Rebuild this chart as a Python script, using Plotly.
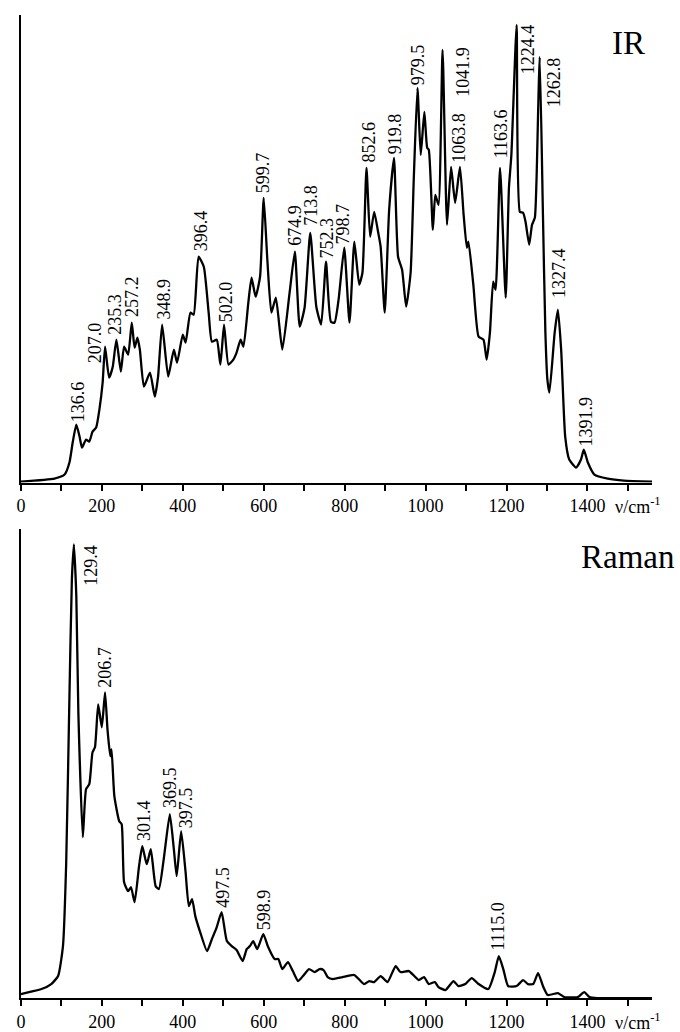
import plotly.graph_objects as go

# ---------------- data ----------------
ir_wavenumber = [0, 83, 108, 120, 128, 137, 145, 151, 161, 169, 177, 186, 194, 202, 208, 218, 227, 236,
                 247, 255, 265, 274, 281, 288, 294, 304, 319, 331, 339, 349, 364, 378, 386, 400, 407, 419,
                 427, 439, 452, 464, 472, 484, 493, 502, 513, 525, 533, 543, 550, 562, 570, 580, 591, 600,
                 609, 619, 630, 646, 664, 677, 689, 701, 715, 730, 742, 754, 766, 775, 785, 799, 812, 824,
                 836, 844, 854, 863, 873, 883, 889, 899, 910, 922, 932, 942, 952, 963, 971, 980, 988, 997,
                 1004, 1008, 1018, 1024, 1032, 1042, 1053, 1063, 1073, 1085, 1094, 1102, 1106, 1118, 1131,
                 1143, 1151, 1159, 1167, 1173, 1184, 1198, 1206, 1212, 1225, 1233, 1241, 1247, 1256, 1263,
                 1270, 1274, 1282, 1290, 1296, 1301, 1306, 1319, 1327, 1335, 1345, 1355, 1372, 1384, 1391,
                 1401, 1417, 1450, 1490, 1560]
ir_intensity = [0, 3, 7, 19, 39, 57, 45, 34, 42, 40, 50, 54, 72, 99, 135, 104, 115, 142,
                110, 135, 127, 159, 134, 144, 132, 95, 109, 85, 105, 157, 105, 132, 119, 147, 139, 169,
                167, 225, 215, 169, 140, 142, 117, 157, 117, 122, 129, 142, 135, 179, 204, 185, 205, 284,
                222, 169, 184, 132, 189, 230, 155, 174, 249, 175, 157, 220, 160, 159, 182, 234, 159, 240,
                197, 209, 314, 245, 270, 249, 235, 169, 272, 324, 225, 212, 175, 209, 305, 394, 327, 370,
                334, 332, 252, 287, 277, 432, 257, 315, 279, 315, 267, 234, 240, 197, 145,
                142, 122, 149, 200, 192, 314, 184, 294, 327, 457, 270, 269, 260, 237, 257,
                264, 300, 425, 267, 150, 102, 89, 149, 172, 132, 45, 22, 14, 22, 32,
                19, 7, 3, 1, 0]

raman_wavenumber = [0, 10, 51, 75, 92, 104, 112, 120, 126, 131, 137, 142, 153, 161, 169, 177, 183, 191,
                    200, 208, 214, 221, 224, 231, 243, 249, 255, 265, 272, 281, 292, 300, 311, 321, 333,
                    341, 353, 368, 378, 385, 396, 407, 415, 423, 431, 443, 460, 472, 484, 496, 509, 521,
                    533, 548, 558, 566, 574, 584, 599, 611, 627, 636, 646, 660, 672, 685, 697, 712, 726,
                    738, 748, 758, 771, 795, 824, 848, 861, 873, 889, 906, 926, 938, 959, 983, 996, 1008,
                    1023, 1032, 1049, 1069, 1081, 1098, 1114, 1131, 1155, 1171, 1181, 1192, 1204, 1225,
                    1241, 1253, 1266, 1278, 1290, 1302, 1327, 1343, 1376, 1392, 1405, 1425, 1560]
raman_intensity = [4, 5, 9, 14, 22, 52, 136, 302, 419, 454, 402, 286, 161, 209, 214, 246, 251, 294,
                   271, 306, 269, 242, 249, 202, 177, 174, 116, 107, 111, 96, 132, 152, 134, 149, 112,
                   109, 139, 184, 149, 122, 167, 126, 92, 99, 82, 66, 47, 59, 71, 86, 57, 52,
                   48, 37, 49, 52, 57, 49, 64, 51, 39, 39, 29, 36, 27, 17, 22, 29, 26,
                   29, 28, 21, 19, 21, 23, 14, 17, 16, 22, 16, 32, 26, 27, 18, 21, 14,
                   16, 11, 8, 17, 12, 14, 20, 14, 9, 26, 42, 29, 12, 12,
                   18, 14, 14, 25, 12, 3, 5, 1, 1, 6, 1, 0, 0]

ir_labels = ["136.6", "207.0", "235.3", "257.2", "348.9", "396.4", "502.0", "599.7", "674.9",
             "713.8", "752.3", "798.7", "852.6", "919.8", "979.5", "1041.9", "1063.8", "1163.6",
             "1224.4", "1262.8", "1327.4", "1391.9"]
ir_label_x = [140, 182, 233, 275, 353, 444, 506, 599, 677, 717, 756, 795, 859, 923, 982, 1092,
              1082, 1185, 1254, 1318, 1328, 1396]
ir_label_y = [80, 139, 167, 185, 183, 251, 180, 309, 257, 276, 244, 258, 340, 348, 417, 410,
              344, 348, 433, 400, 209, 60]

raman_labels = ["129.4", "206.7", "301.4", "369.5", "397.5", "497.5", "598.9", "1115.0"]
raman_label_x = [174, 209, 304, 368, 408, 501, 601, 1180]
raman_label_y = [433, 331, 178, 211, 190, 111, 88, 72]

tick_values = [0, 200, 400, 600, 800, 1000, 1200, 1400]
tick_labels = ["0", "200", "400", "600", "800", "1000", "1200", "1400"]

# ---------------- figure ----------------
W, H = 680, 1032
SERIF = "Liberation Serif, Times New Roman, serif"

fig = go.Figure()
fig.add_trace(go.Scatter(x=ir_wavenumber, y=ir_intensity, mode="lines",
                         line=dict(color="black", width=2.3, shape="spline", smoothing=0.5),
                         xaxis="x", yaxis="y", showlegend=False, hoverinfo="skip"))
fig.add_trace(go.Scatter(x=raman_wavenumber, y=raman_intensity, mode="lines",
                         line=dict(color="black", width=2.3, shape="spline", smoothing=0.5),
                         xaxis="x2", yaxis="y2", showlegend=False, hoverinfo="skip"))

xdom = [16 / W, 652 / W]
axis_common = dict(range=[0, 1560], showgrid=False, zeroline=False, showline=True,
                   linecolor="black", linewidth=2, ticks="outside", ticklen=6, tickwidth=1.5,
                   tickcolor="black", tickmode="array", tickvals=tick_values, ticktext=tick_labels,
                   minor=dict(ticks="outside", tick0=100, dtick=200, ticklen=6, tickwidth=1.5,
                              tickcolor="black", showgrid=False),
                   tickfont=dict(family=SERIF, size=18, color="black"), domain=xdom)
yaxis_common = dict(showgrid=False, zeroline=False, showline=True, linecolor="black",
                    linewidth=2, showticklabels=False, ticks="")

fig.update_layout(
    width=W, height=H,
    margin=dict(l=0, r=0, t=0, b=0),
    paper_bgcolor="white", plot_bgcolor="white",
    xaxis=dict(anchor="y", **axis_common),
    yaxis=dict(anchor="x", range=[-1, 467], domain=[1 - 483 / H, 1 - 15 / H], **yaxis_common),
    xaxis2=dict(anchor="y2", **axis_common),
    yaxis2=dict(anchor="x2", range=[0, 469], domain=[1 - 999 / H, 1 - 530 / H], **yaxis_common),
)

annotations = []
for t, x, y in zip(ir_labels, ir_label_x, ir_label_y):
    annotations.append(dict(text=t, x=x, y=y, xref="x", yref="y", showarrow=False,
                            textangle=-90, xanchor="center", yanchor="middle",
                            font=dict(family=SERIF, size=18, color="black")))
for t, x, y in zip(raman_labels, raman_label_x, raman_label_y):
    annotations.append(dict(text=t, x=x, y=y, xref="x2", yref="y2", showarrow=False,
                            textangle=-90, xanchor="center", yanchor="middle",
                            font=dict(family=SERIF, size=18, color="black")))

annotations.append(dict(text="IR", x=628 / W, y=1 - 43 / H, xref="paper", yref="paper",
                        showarrow=False, xanchor="center", yanchor="middle",
                        font=dict(family=SERIF, size=33, color="black")))
annotations.append(dict(text="Raman", x=627 / W, y=1 - 558 / H, xref="paper", yref="paper",
                        showarrow=False, xanchor="center", yanchor="middle",
                        font=dict(family=SERIF, size=33, color="black")))
for yc in (506, 1022):
    annotations.append(dict(text="ν/cm<sup>-1</sup>", x=638 / W, y=1 - yc / H,
                            xref="paper", yref="paper", showarrow=False,
                            xanchor="center", yanchor="middle",
                            font=dict(family=SERIF, size=18, color="black")))
fig.update_layout(annotations=annotations)

fig.write_html("out.html")
